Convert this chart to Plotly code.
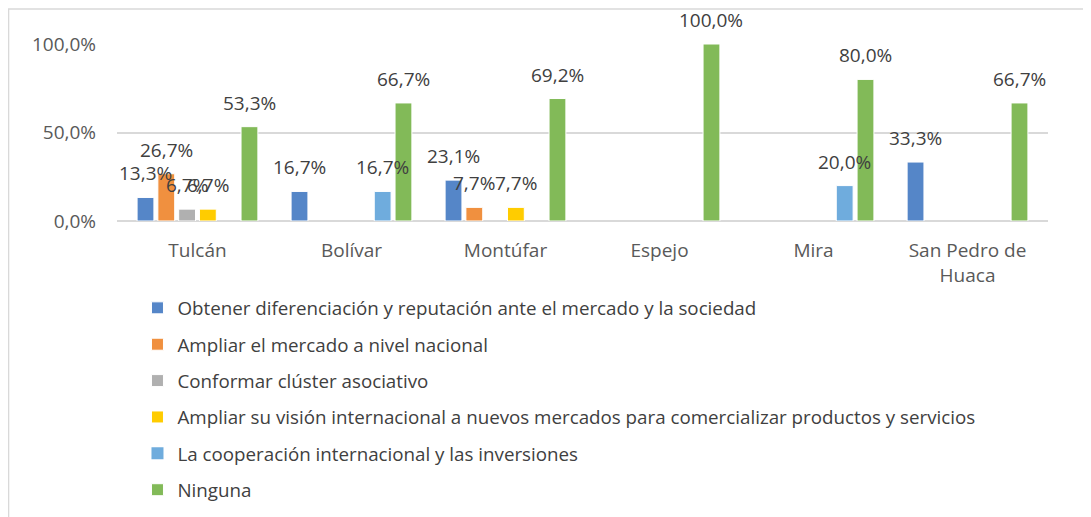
import plotly.graph_objects as go

cantones = ["Tulcán", "Bolívar", "Montúfar", "Espejo", "Mira", "San Pedro de<br>Huaca"]

series_names = [
    "Obtener diferenciación y reputación ante el mercado y la sociedad",
    "Ampliar el mercado a nivel nacional",
    "Conformar clúster asociativo",
    "Ampliar su visión internacional a nuevos mercados para comercializar productos y servicios",
    "La cooperación internacional y las inversiones",
    "Ninguna",
]

diferenciacion = [0.133, 0.167, 0.231, 0.0, 0.0, 0.333]
mercado_nacional = [0.267, 0.0, 0.077, 0.0, 0.0, 0.0]
cluster = [0.067, 0.0, 0.0, 0.0, 0.0, 0.0]
vision_internacional = [0.067, 0.0, 0.077, 0.0, 0.0, 0.0]
cooperacion = [0.0, 0.167, 0.0, 0.0, 0.2, 0.0]
ninguna = [0.533, 0.667, 0.692, 1.0, 0.8, 0.667]

colors = ["#5586C8", "#F0903F", "#B0B0B0", "#FFCC00", "#6FACDD", "#82BA58"]

all_series = [diferenciacion, mercado_nacional, cluster, vision_internacional, cooperacion, ninguna]

FONT = "Open Sans"
BARGAP = 0.19
n = len(all_series)

fig = go.Figure()
annotations = []
for si, (name, vals, col) in enumerate(zip(series_names, all_series, colors)):
    fig.add_trace(go.Bar(
        x=cantones, y=vals, name=name, legendgroup=f"g{si}",
        marker=dict(color=col,
                    line=dict(color="white", width=[1 if v > 0 else 0 for v in vals])),
    ))
    # data labels placed over the centre of each bar (category index + group offset)
    slot = (1 - BARGAP) / n
    offset = -(1 - BARGAP) / 2 + slot * (si + 0.5)
    for ci, v in enumerate(vals):
        if v > 0:
            annotations.append(dict(
                x=ci + offset, y=v, xref="x", yref="y",
                text=f"{v * 100:.1f}%".replace(".", ","),
                showarrow=False, yanchor="bottom", yshift=9,
                font=dict(family=FONT, size=19, color="#404040"),
            ))

fig.update_layout(
    width=1091, height=517,
    margin=dict(l=109, r=51, t=36, b=304, autoexpand=False),
    paper_bgcolor="white", plot_bgcolor="white",
    barmode="group", bargap=BARGAP, bargroupgap=0.19,
    font=dict(family=FONT, size=19, color="#595959"),
    showlegend=True,
    legend=dict(
        orientation="v", x=0.022, xanchor="left", y=-0.385, yanchor="top",
        font=dict(family=FONT, size=18.75, color="#404040"),
        itemwidth=30, tracegroupgap=9,
    ),
    annotations=annotations,
    shapes=[dict(type="rect", xref="paper", yref="paper",
                 x0=-0.1165, x1=1.07, y0=-1.7, y1=1.198,
                 line=dict(color="#D9D9D9", width=1.5), layer="below")],
)
fig.update_xaxes(showgrid=False, showline=False, ticks="", automargin=False,
                 ticklabelstandoff=16,
                 tickfont=dict(family=FONT, size=19, color="#595959"))
fig.update_yaxes(range=[0, 1], tickvals=[0, 0.5, 1], ticktext=["0,0%", "50,0%", "100,0%"],
                 showgrid=True, gridcolor="#D9D9D9", gridwidth=1.5, automargin=False,
                 zeroline=True, zerolinecolor="#D9D9D9", zerolinewidth=1.5,
                 tickfont=dict(family=FONT, size=19, color="#595959"), ticklabelstandoff=20)

fig.write_html("out.html")
